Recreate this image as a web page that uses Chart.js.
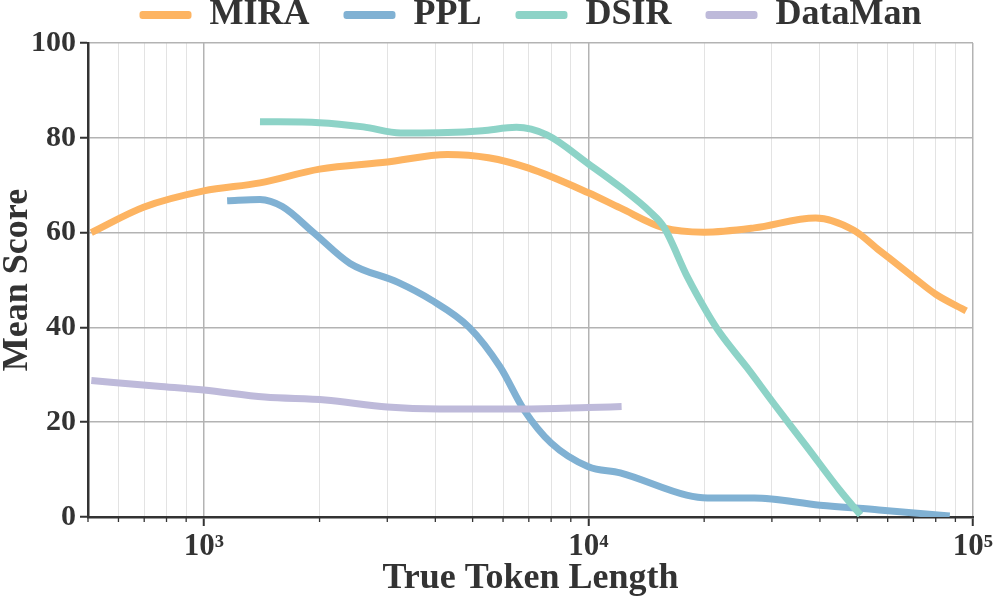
<!DOCTYPE html>
<html>
<head>
<meta charset="utf-8">
<script src="https://cdn.jsdelivr.net/npm/chart.js@4/dist/chart.umd.min.js"></script>
<style>
html, body { margin: 0; padding: 0; background: #fff; }
#wrap { width: 997px; height: 602px; }
</style>
</head>
<body>
<div id="wrap"><canvas id="grafico"></canvas></div>
<script>
// token length / score pairs
var miraLen = [510, 700, 1000, 1400, 2000, 3000, 4300, 5500, 7000, 10000, 12100, 15700, 20000, 27000, 39000, 49000, 57000, 70000, 80000, 96000];
var miraScore = [60, 65.4, 68.8, 70.5, 73.4, 74.9, 76.5, 75.8, 73.6, 68.4, 65.2, 61, 60.1, 61, 63.1, 60.5, 56.3, 50.6, 47, 43.5];

var pplLen = [1150, 1400, 1600, 1930, 2400, 3200, 3900, 4900, 5900, 6800, 8000, 10000, 12100, 18000, 20400, 27000, 40000, 57000, 87000];
var pplScore = [66.7, 67.0, 65.5, 60, 53.5, 49.5, 45.8, 40, 31.6, 22.6, 15.6, 10.6, 9.3, 4.6, 4.0, 4.0, 2.5, 1.5, 0.2];

var dsirLen = [1400, 2000, 2600, 3250, 4300, 5300, 6500, 7800, 10000, 12100, 14500, 15700, 18100, 20400, 22000, 25800, 30300, 37000, 45000, 51000];
var dsirScore = [83.4, 83.2, 82.3, 81, 81.1, 81.5, 82.2, 80.6, 74.5, 69.6, 64.3, 61.2, 50.6, 43, 38.8, 31.6, 24, 14.8, 5.7, 0.4];

var datamanLen = [510, 760, 1000, 1440, 2070, 3000, 4100, 6700, 10000, 12200];
var datamanScore = [28.8, 27.6, 26.8, 25.3, 24.7, 23.2, 22.8, 22.8, 23.1, 23.3];

var seriesNames = ['MIRA', 'PPL', 'DSIR', 'DataMan'];
var seriesColors = ['#fdb462', '#80b1d3', '#8dd3c7', '#bebada'];

var xTicks = [500, 600, 700, 800, 900, 1000, 2000, 3000, 4000, 5000, 6000, 7000, 8000, 9000,
              10000, 20000, 30000, 40000, 50000, 60000, 70000, 80000, 90000, 100000];
var majorTicks = [1000, 10000, 100000];
var majorLabels = ['10\u00b3', '10\u2074', '10\u2075'];
var yTicks = [0, 20, 40, 60, 80, 100];

var fam = "'Liberation Serif', 'DejaVu Serif', serif";
var ink = '#333333';

function pares(xs, ys) {
    return xs.map(function (v, i) { return { x: v, y: ys[i] }; });
}
function isMajor(v) {
    return majorTicks.indexOf(v) >= 0;
}

var allLen = [miraLen, pplLen, dsirLen, datamanLen];
var allScore = [miraScore, pplScore, dsirScore, datamanScore];
var series = [];
for (var i = 0; i < seriesNames.length; i++) {
    series.push({
        label: seriesNames[i],
        data: pares(allLen[i], allScore[i]),
        borderColor: seriesColors[i],
        backgroundColor: seriesColors[i],
        borderWidth: 7,
        pointRadius: 0,
        cubicInterpolationMode: 'monotone',
        fill: false,
        order: seriesNames.length - i   // later series on top, like matplotlib
    });
}

// short minor tick marks under the log axis
var minorTicks = {
    id: 'minorTicks',
    afterDraw: function (chart) {
        var sx = chart.scales.x;
        var c = chart.ctx;
        c.save();
        c.strokeStyle = ink;
        c.lineWidth = 1.3;
        sx.ticks.forEach(function (t) {
            if (isMajor(t.value)) return;
            var px = sx.getPixelForValue(t.value);
            c.beginPath();
            c.moveTo(px, sx.top);
            c.lineTo(px, sx.top + 5);
            c.stroke();
        });
        c.restore();
    }
};

var grafico = document.getElementById('grafico').getContext('2d');
var chart = new Chart(grafico, {
    type: 'line',
    data: { datasets: series },
    plugins: [minorTicks],
    options: {
        responsive: true,
        maintainAspectRatio: false,
        animation: false,
        layout: { padding: { left: 0, right: 24, top: -37, bottom: 0 } },
        plugins: {
            tooltip: { enabled: false },
            legend: {
                fullSize: false,
                labels: {
                    boxWidth: 52,
                    boxHeight: 8,
                    padding: 34,
                    color: ink,
                    font: { family: fam, size: 36, weight: 'bold' },
                    useBorderRadius: true,
                    borderRadius: 3,
                    generateLabels: function (ch) {
                        return ch.data.datasets.map(function (d, k) {
                            return {
                                text: d.label,
                                fillStyle: d.borderColor,
                                strokeStyle: d.borderColor,
                                lineWidth: 0,
                                hidden: false,
                                datasetIndex: k,
                                fontColor: ink,
                                borderRadius: 3
                            };
                        });
                    }
                }
            }
        },
        scales: {
            x: {
                type: 'logarithmic',
                min: 500,
                max: 100000,
                afterBuildTicks: function (s) {
                    s.ticks = xTicks.map(function (v) { return { value: v }; });
                },
                afterFit: function (s) { s.height = 85; },
                border: { color: ink, width: 2.5 },
                grid: {
                    color: function (ctx) { return ctx.tick && isMajor(ctx.tick.value) ? '#b3b3b3' : '#e3e3e3'; },
                    lineWidth: function (ctx) { return ctx.tick && isMajor(ctx.tick.value) ? 1.5 : 1; },
                    tickColor: function (ctx) { return ctx.tick && isMajor(ctx.tick.value) ? ink : 'rgba(0,0,0,0)'; },
                    tickLength: 9,
                    tickWidth: 2
                },
                ticks: {
                    autoSkip: false,
                    maxRotation: 0,
                    color: ink,
                    padding: 2,
                    font: { family: fam, size: 31, weight: 'bold' },
                    callback: function (v) {
                        var k = majorTicks.indexOf(v);
                        return k >= 0 ? majorLabels[k] : '';
                    }
                },
                title: {
                    display: true,
                    text: 'True Token Length',
                    color: ink,
                    font: { family: fam, size: 36, weight: 'bold' },
                    padding: { top: 0, bottom: 2 }
                }
            },
            y: {
                min: 0,
                max: 100,
                afterBuildTicks: function (s) {
                    s.ticks = yTicks.map(function (v) { return { value: v }; });
                },
                afterFit: function (s) { s.width = 88; },
                border: { color: ink, width: 2.5 },
                grid: {
                    color: '#b3b3b3',
                    lineWidth: 1.5,
                    tickColor: ink,
                    tickLength: 8,
                    tickWidth: 2
                },
                ticks: {
                    color: ink,
                    padding: 4,
                    font: { family: fam, size: 30, weight: 'bold' }
                },
                title: {
                    display: true,
                    text: 'Mean Score',
                    color: ink,
                    font: { family: fam, size: 36, weight: 'bold', lineHeight: 1 },
                    padding: 0
                }
            }
        }
    }
});
</script>
</body>
</html>
